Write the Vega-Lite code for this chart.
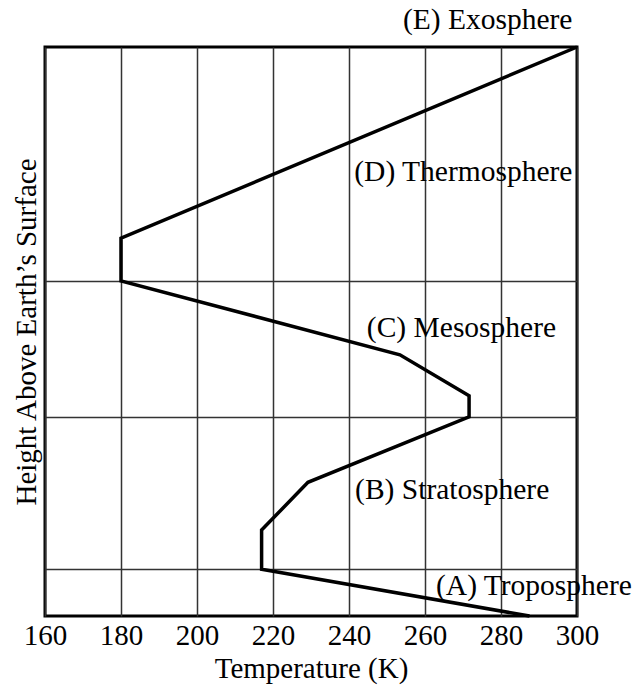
{
  "$schema": "https://vega.github.io/schema/vega-lite/v6.json",
  "width": 532,
  "height": 569,
  "autosize": "none",
  "padding": {"left": 45, "top": 47, "right": 60, "bottom": 70},
  "background": "white",
  "config": {
    "font": "Liberation Serif",
    "view": {"stroke": "black", "strokeWidth": 3},
    "axis": {"labelFont": "Liberation Serif", "titleFont": "Liberation Serif", "labelColor": "black", "titleColor": "black", "titleFontWeight": "normal"}
  },
  "datasets": {
    "profile": [
      {"seq": 1, "temperature": 287.5, "height": 0},
      {"seq": 2, "temperature": 217, "height": 8.2},
      {"seq": 3, "temperature": 217, "height": 15.1},
      {"seq": 4, "temperature": 229.2, "height": 23.5},
      {"seq": 5, "temperature": 271.6, "height": 35},
      {"seq": 6, "temperature": 271.6, "height": 38.7},
      {"seq": 7, "temperature": 253.4, "height": 45.9},
      {"seq": 8, "temperature": 180, "height": 58.9},
      {"seq": 9, "temperature": 180, "height": 66.4},
      {"seq": 10, "temperature": 300, "height": 100}
    ],
    "labels": [
      {"label": "(E) Exosphere", "temperature": 298.8, "height": 104.7, "anchor": "right"},
      {"label": "(D) Thermosphere", "temperature": 298.8, "height": 78.0, "anchor": "right"},
      {"label": "(C) Mesosphere", "temperature": 244.7, "height": 50.6, "anchor": "left"},
      {"label": "(B) Stratosphere", "temperature": 241.6, "height": 22.1, "anchor": "left"},
      {"label": "(A) Troposphere", "temperature": 262.9, "height": 5.3, "anchor": "left"}
    ]
  },
  "layer": [
    {
      "data": {"name": "profile"},
      "mark": {"type": "line", "color": "black", "strokeWidth": 3.5, "strokeJoin": "miter", "clip": false},
      "encoding": {
        "x": {
          "field": "temperature", "type": "quantitative",
          "scale": {"domain": [160, 300], "nice": false, "zero": false},
          "axis": {
            "values": [160, 180, 200, 220, 240, 260, 280, 300],
            "title": "Temperature (K)", "titleFontSize": 29, "titlePadding": 4,
            "labelFontSize": 29, "labelPadding": 5, "labelFlush": false, "labelOverlap": false,
            "ticks": false, "domain": false,
            "grid": true, "gridColor": "#333", "gridWidth": 1.5, "gridOpacity": 1
          }
        },
        "y": {
          "field": "height", "type": "quantitative",
          "scale": {"domain": [0, 100], "nice": false},
          "axis": {
            "values": [8.26, 35, 58.9],
            "labels": false, "ticks": false, "domain": false,
            "title": "Height Above Earth\u2019s Surface", "titleFontSize": 29, "titlePadding": 4,
            "grid": true, "gridColor": "#333", "gridWidth": 1.5, "gridOpacity": 1
          }
        },
        "order": {"field": "seq", "type": "quantitative"}
      }
    },
    {
      "data": {"name": "labels"},
      "transform": [{"filter": "datum.anchor === 'left'"}],
      "mark": {"type": "text", "align": "left", "baseline": "middle", "fontSize": 29.5, "font": "Liberation Serif", "color": "black"},
      "encoding": {
        "x": {"field": "temperature", "type": "quantitative"},
        "y": {"field": "height", "type": "quantitative"},
        "text": {"field": "label"}
      }
    },
    {
      "data": {"name": "labels"},
      "transform": [{"filter": "datum.anchor === 'right'"}],
      "mark": {"type": "text", "align": "right", "baseline": "middle", "fontSize": 29.5, "font": "Liberation Serif", "color": "black"},
      "encoding": {
        "x": {"field": "temperature", "type": "quantitative"},
        "y": {"field": "height", "type": "quantitative"},
        "text": {"field": "label"}
      }
    }
  ]
}
